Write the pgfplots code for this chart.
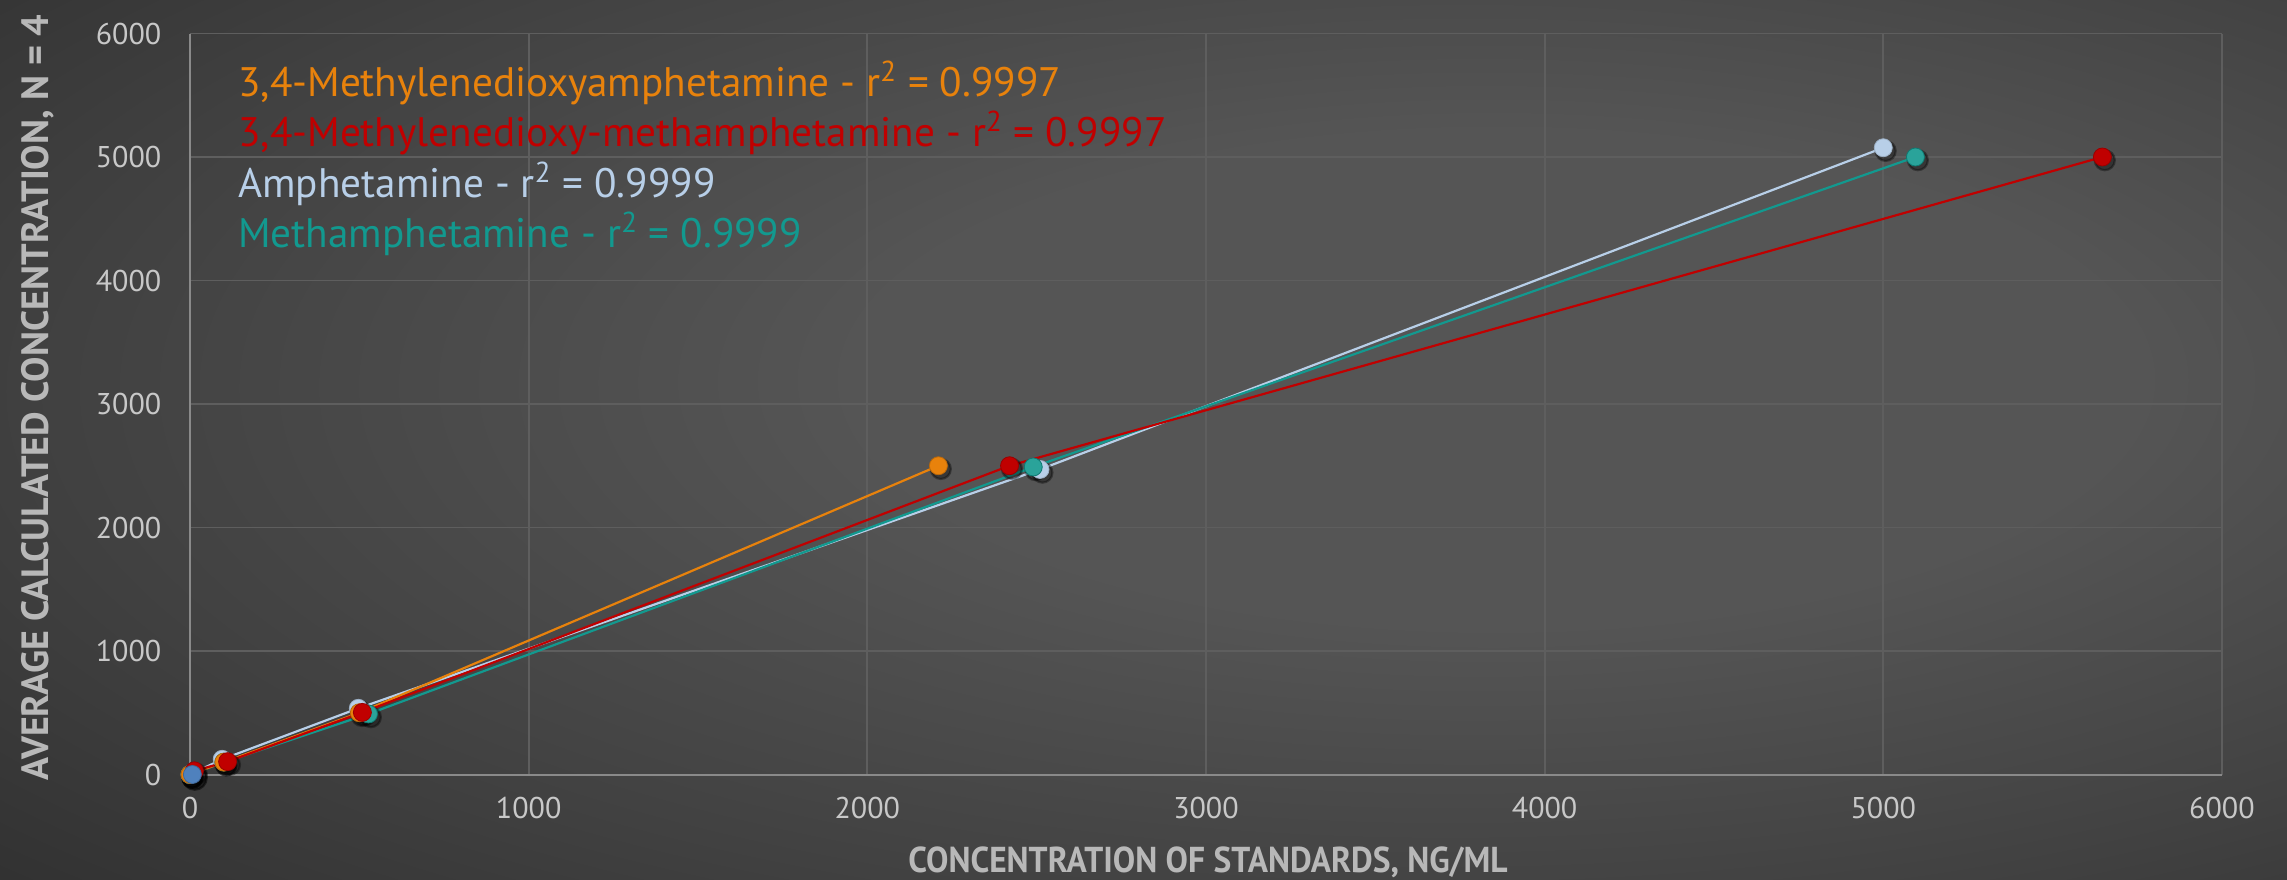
\documentclass[border=0pt]{standalone}
\usepackage{pgfplots}
\pgfplotsset{compat=1.18}
\usepackage{pgfplotstable}
\usepackage{fontspec}
\setmainfont{PT Sans}
\newfontfamily\condfont[FakeStretch=0.93]{PT Sans}

\definecolor{mdaorange}{HTML}{E8820C}
\definecolor{mdmared}{HTML}{C00000}
\definecolor{amphblue}{HTML}{B8CFE8}
\definecolor{methteal}{HTML}{12998F}
\definecolor{zeroblue}{HTML}{4F81BD}
\definecolor{gridgray}{HTML}{5E5E5E}
\definecolor{axisgray}{HTML}{8A8A8A}
\definecolor{ticktext}{HTML}{C8C8C8}
\definecolor{titletext}{HTML}{B8B8B8}
\definecolor{bgc}{HTML}{555555}
\definecolor{bgm}{HTML}{414141}
\definecolor{bge}{HTML}{252525}

\pgfdeclareradialshading{bgshade}{\pgfpoint{9bp}{4bp}}{%
  color(0bp)=(bgc); color(14bp)=(bgc); color(30bp)=(bgm); color(50bp)=(bge); color(100bp)=(bge)}

% x: concentration of standards (ng/mL), y: average calculated concentration
\pgfplotstableread{
x y
0 0
95 123
497 536
2510 2470
5000 5075
}\amphtab
\pgfplotstableread{
x y
0 0
100 100
527 490
2490 2490
5095 5000
}\methtab
\pgfplotstableread{
x y
0 0
100 100
500 500
2210 2500
}\mdatab
\pgfplotstableread{
x y
13 30
111 104
509 503
2420 2500
5647 5000
}\mdmatab
\pgfplotstableread{
x y
7 0
}\zerotab

\pgfplotsset{
  markshadow/.style={only marks, mark=*, mark size=5pt, black, opacity=0.35,
                     xshift=1.2pt, yshift=-1.6pt},
}

\begin{document}
\begin{tikzpicture}
\shade[shading=bgshade] (0,0) rectangle (1143.5pt,439.5pt);
\begin{axis}[
  at={(95pt,52.25pt)}, anchor=south west,
  scale only axis, width=1016pt, height=370.5pt,
  xmin=0, xmax=6000, ymin=0, ymax=6000,
  xtick={0,1000,...,6000}, ytick={0,1000,...,6000},
  axis lines*=left,
  axis line style={color=axisgray, line width=1pt},
  grid=major,
  major grid style={color=gridgray, line width=0.9pt},
  major tick length=0pt,
  /pgf/number format/assume math mode=true,
  /pgf/number format/1000 sep={},
  xticklabel style={font=\fontsize{15}{15}\selectfont, color=ticktext, yshift=-7.5pt},
  yticklabel style={font=\fontsize{15}{15}\selectfont, color=ticktext, xshift=-10.5pt},
  clip=false,
  line width=1.1pt,
]
% soft shadows under the markers
\addplot[markshadow] table {\amphtab};
\addplot[markshadow] table {\methtab};
\addplot[markshadow] table {\mdatab};
\addplot[markshadow] table {\mdmatab};
\addplot[markshadow, mark size=6pt, opacity=0.5] table {\zerotab};
% the four calibration series
\addplot[amphblue, mark=*, mark size=4.5pt, mark options={fill=amphblue, draw=amphblue!85!black, line width=0.4pt}] table {\amphtab};
\addplot[methteal, mark=*, mark size=4.5pt, mark options={fill=methteal!90!white, draw=methteal!80!black, line width=0.4pt}] table {\methtab};
\addplot[mdaorange, mark=*, mark size=4.5pt, mark options={fill=mdaorange, draw=mdaorange!80!black, line width=0.4pt}] table {\mdatab};
\addplot[mdmared, mark=*, mark size=4.5pt, mark options={fill=mdmared, draw=mdmared!80!black, line width=0.4pt}] table {\mdmatab};
\addplot[only marks, mark=*, mark size=4.5pt, mark options={fill=zeroblue, draw=zeroblue!80!black, line width=0.4pt}] table {\zerotab};
\end{axis}

\begin{scope}[every node/.style={anchor=base west, inner sep=0pt, font=\fontsize{20.6}{20.6}\selectfont}]
\node[text=mdaorange] at (119pt,391.15pt) {3,4-Methylenedioxyamphetamine - r\textsuperscript{2} = 0.9997};
\node[text=mdmared]   at (119pt,366.15pt) {3,4-Methylenedioxy-methamphetamine - r\textsuperscript{2} = 0.9997};
\node[text=amphblue]  at (119pt,340.5pt) {Amphetamine - r\textsuperscript{2} = 0.9999};
\node[text=methteal]  at (119pt,315.5pt) {Methamphetamine - r\textsuperscript{2} = 0.9999};
\end{scope}

\node[anchor=base, inner sep=0pt, text=titletext, font=\condfont\bfseries\fontsize{18}{18}\selectfont]
  at (604pt,3.5pt) {CONCENTRATION OF STANDARDS, NG/ML};
\node[anchor=base, rotate=90, inner sep=0pt, text=titletext, font=\bfseries\fontsize{19}{19}\selectfont]
  at (24pt,240.75pt) {AVERAGE CALCULATED CONCENTRATION, N = 4};

\pgfresetboundingbox
\path (0,0) rectangle (1143.5pt,439.5pt);
\end{tikzpicture}
\end{document}
